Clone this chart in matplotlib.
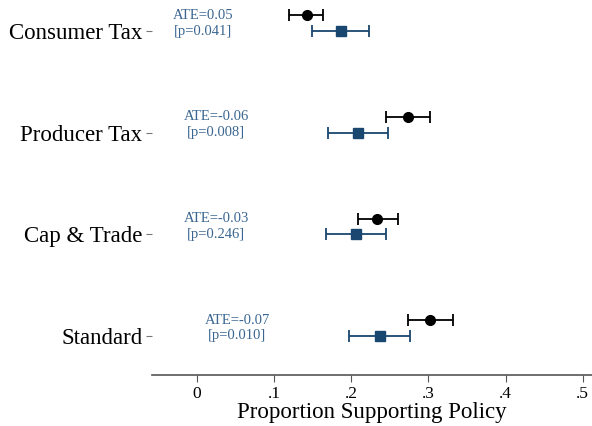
import matplotlib.pyplot as plt
import numpy as np

plt.rcParams['font.family'] = ['Liberation Serif', 'DejaVu Serif']

policies = ['Consumer Tax', 'Producer Tax', 'Cap & Trade', 'Standard']

# black (control) estimates and 95% CI
ctrl_est = [0.143, 0.273, 0.233, 0.302]
ctrl_lo = [0.119, 0.245, 0.209, 0.273]
ctrl_hi = [0.163, 0.302, 0.260, 0.332]

# blue (treatment) estimates and 95% CI
trt_est = [0.187, 0.209, 0.206, 0.237]
trt_lo = [0.149, 0.170, 0.167, 0.197]
trt_hi = [0.223, 0.247, 0.245, 0.276]

ate = ['0.05', '-0.06', '-0.03', '-0.07']
pvals = ['0.041', '0.008', '0.246', '0.010']
label_x = [0.008, 0.025, 0.025, 0.052]

navy = '#1a476f'
txt_blue = '#3a6691'

fig = plt.figure(figsize=(5.92, 4.26), dpi=100)
ax = fig.add_axes([0.257, 0.12, 0.743, 0.88])

ypos = np.arange(len(policies))[::-1] + 1.0
off = 0.155

ctrl_est = np.array(ctrl_est)
trt_est = np.array(trt_est)
ax.errorbar(ctrl_est, ypos + off,
            xerr=[ctrl_est - np.array(ctrl_lo), np.array(ctrl_hi) - ctrl_est],
            fmt='o', color='black', ms=7, elinewidth=1.3, capsize=4, capthick=1.3)
ax.errorbar(trt_est, ypos,
            xerr=[trt_est - np.array(trt_lo), np.array(trt_hi) - trt_est],
            fmt='s', color=navy, ms=7, elinewidth=1.3, capsize=4, capthick=1.3)

for i, y in enumerate(ypos):
    ax.text(label_x[i], y + off, 'ATE=' + ate[i], color=txt_blue, fontsize=10.5,
            ha='center', va='center')
    ax.text(label_x[i], y, '[p=' + pvals[i] + ']', color=txt_blue, fontsize=10.5,
            ha='center', va='center')

ax.set_xlim(-0.058, 0.512)
ax.set_ylim(0.617, 4.305)
ax.set_yticks(ypos)
ax.set_yticklabels(policies, fontsize=16.5)
ax.set_xticks([0, 0.1, 0.2, 0.3, 0.4, 0.5])
ax.set_xticklabels(['0', '.1', '.2', '.3', '.4', '.5'], fontsize=12.5)
ax.set_xlabel('Proportion Supporting Policy', fontsize=16.5, labelpad=0)

for s in ['top', 'right', 'left']:
    ax.spines[s].set_visible(False)
ax.spines['bottom'].set_color('#555555')
ax.spines['bottom'].set_linewidth(1.2)
ax.tick_params(axis='y', length=4, color='#777777', pad=3)
ax.tick_params(axis='x', length=5, color='#555555', pad=3)

fig.savefig('out.png', dpi=100)
